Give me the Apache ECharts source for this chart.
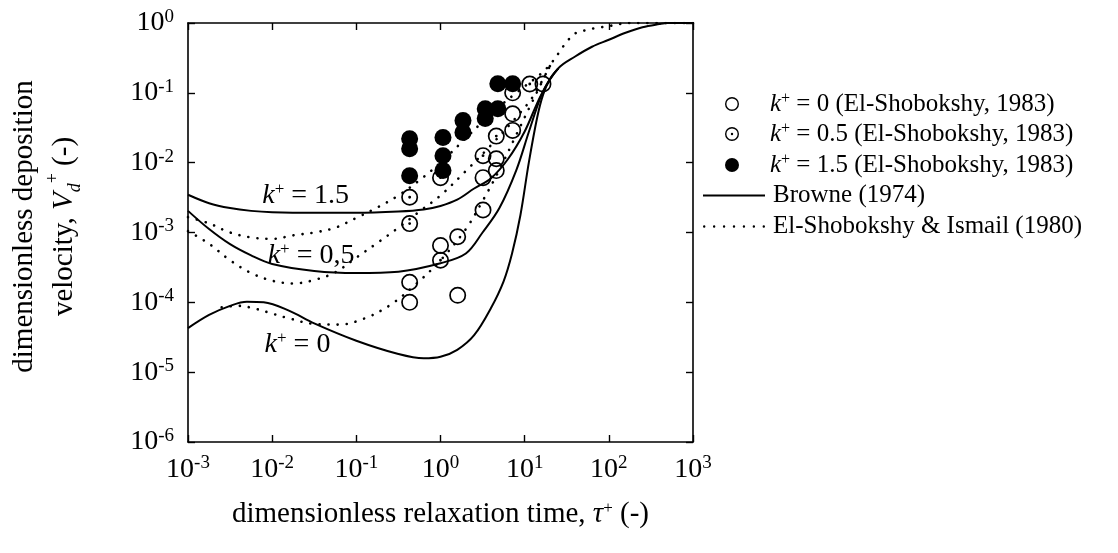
<!DOCTYPE html>
<html><head><meta charset="utf-8">
<script src="https://cdn.jsdelivr.net/npm/echarts@6/dist/echarts.min.js"></script>
<style>html,body{margin:0;padding:0;background:#fff}#c{width:1118px;height:553px}</style>
</head><body><div id="c"></div>
<script>
// ---------- data ----------
const browne15X = [0.001, 0.00178, 0.00316, 0.00562, 0.01, 0.0316, 0.1, 0.316, 0.631, 1, 1.58, 2.51, 3.98, 6.31, 10, 15.8, 25.1, 39.8, 63.1, 100, 158, 251, 398, 501, 1000];
const browne15Y = [3.47e-3, 2.63e-3, 2.24e-3, 2.04e-3, 1.95e-3, 1.91e-3, 1.91e-3, 2.0e-3, 2.14e-3, 2.4e-3, 2.95e-3, 4.27e-3, 6.0e-3, 1.12e-2, 2.8e-2, 9.5e-2, 0.224, 0.331, 0.457, 0.575, 0.724, 0.871, 0.966, 1, 1];
const browne05X = [0.001, 0.00178, 0.00316, 0.00562, 0.01, 0.0316, 0.1, 0.316, 1, 2.0, 3.16, 5.01, 7.94, 11.2, 15.8, 20, 25.1];
const browne05Y = [2.04e-3, 1.12e-3, 6.8e-4, 4.7e-4, 3.55e-4, 2.82e-4, 2.63e-4, 2.75e-4, 3.63e-4, 5.0e-4, 1.0e-3, 2.24e-3, 7.76e-3, 2.75e-2, 9.3e-2, 0.158, 0.224];
const browne0X = [0.001, 0.00178, 0.00316, 0.00501, 0.00794, 0.0158, 0.0316, 0.1, 0.316, 0.631, 1, 1.58, 2.51, 3.98, 5.62, 7.08, 8.91, 11.2, 14.1, 16.6, 20, 25.1];
const browne0Y = [4.27e-5, 6.6e-5, 8.9e-5, 1.02e-4, 1.0e-4, 7.6e-5, 5.0e-5, 2.82e-5, 1.82e-5, 1.58e-5, 1.66e-5, 2.09e-5, 3.39e-5, 8.3e-5, 2.0e-4, 5.0e-4, 1.78e-3, 1.0e-2, 4.47e-2, 9.5e-2, 0.158, 0.224];

const elsh15X = [0.001, 0.00178, 0.00316, 0.00562, 0.01, 0.0178, 0.0316, 0.0562, 0.1, 0.178, 0.316, 0.562, 1, 2.0, 3.98, 7.94, 15.8, 20.9, 25.7, 30.9, 39.8, 53.7, 70.8, 100, 126, 178, 1000];
const elsh15Y = [1.66e-3, 1.35e-3, 1.0e-3, 8.5e-4, 8.1e-4, 9.1e-4, 1.0e-3, 1.17e-3, 1.62e-3, 2.29e-3, 3.39e-3, 5.6e-3, 1.0e-2, 2.24e-2, 5.0e-2, 0.1, 0.19, 0.27, 0.38, 0.52, 0.71, 0.79, 0.85, 0.9, 0.955, 1, 1];
const elsh05X = [0.001, 0.00178, 0.00316, 0.00562, 0.01, 0.0178, 0.0316, 0.0562, 0.1, 0.178, 0.316, 0.562, 1, 2.0, 3.98, 7.94, 12.6, 20.9];
const elsh05Y = [1.05e-3, 6.9e-4, 4.0e-4, 2.63e-4, 2.04e-4, 1.86e-4, 2.09e-4, 2.69e-4, 4.37e-4, 7.1e-4, 1.17e-3, 2.0e-3, 3.39e-3, 7.6e-3, 1.78e-2, 4.47e-2, 8.9e-2, 0.27];
const elsh0X = [0.00251, 0.00398, 0.00631, 0.01, 0.0158, 0.0316, 0.063, 0.126, 0.251, 0.5, 1, 2, 3.16, 5.01, 7.94, 12.6, 20.9];
const elsh0Y = [8.5e-5, 8.9e-5, 8.1e-5, 6.9e-5, 5.9e-5, 4.9e-5, 4.8e-5, 5.9e-5, 9.1e-5, 1.78e-4, 4.0e-4, 1.12e-3, 2.82e-3, 7.9e-3, 2.5e-2, 7.9e-2, 0.27];

// El-Shobokshy (1983) measurements
const exp0Tau = [0.43, 0.43, 1.6, 1.0, 1.6, 3.2, 3.2, 4.6, 4.6, 7.2, 7.2, 7.2, 16.5];
const exp0V   = [1.94e-4, 1.0e-4, 1.26e-4, 6.5e-4, 8.7e-4, 2.1e-3, 6.1e-3, 7.7e-3, 1.14e-2, 2.9e-2, 5.0e-2, 0.1, 0.134];
const exp05Tau = [0.43, 0.43, 1.0, 1.0, 3.2, 4.6, 11.5];
const exp05V   = [3.2e-3, 1.34e-3, 4.0e-4, 6.1e-3, 1.26e-2, 2.4e-2, 0.134];
const exp15Tau = [0.43, 0.43, 0.43, 1.07, 1.07, 1.07, 1.85, 1.85, 3.4, 3.4, 4.8, 4.8, 7.2];
const exp15V   = [0.022, 0.0158, 0.0065, 0.023, 0.0126, 0.0077, 0.04, 0.027, 0.059, 0.043, 0.059, 0.135, 0.135];

const xMin = 1e-3, xMax = 1e3, yMin = 1e-6, yMax = 1;

const nameK0 = 'k+ = 0 (El-Shobokshy, 1983)';
const nameK05 = 'k+ = 0.5 (El-Shobokshy, 1983)';
const nameK15 = 'k+ = 1.5 (El-Shobokshy, 1983)';
const nameBrowne = 'Browne (1974)';
const nameElsh = 'El-Shobokshy & Ismail (1980)';

// curve annotations: text value and anchor in data space
const annoText = ['1.5', '0,5', '0'];
const annoTau = [0.025, 0.029, 0.02];
const annoV = [3.4e-3, 4.7e-4, 2.45e-5];

// ---------- helpers ----------
const zip = (a, b) => a.map((v, i) => [v, b[i]]);
const FONT = 'Liberation Serif';
const ringPath = 'path://M10,0A10,10,0,1,1,10,20A10,10,0,1,1,10,0ZM10,2A8,8,0,1,0,10,18A8,8,0,1,0,10,2Z';
const ringDotPath = 'path://M10,0A10,10,0,1,1,10,20A10,10,0,1,1,10,0ZM10,2A8,8,0,1,0,10,18A8,8,0,1,0,10,2ZM10,8.3A1.7,1.7,0,1,1,10,11.7A1.7,1.7,0,1,1,10,8.3Z';
// legend icons for the two line styles
const solidIcon = 'path://M0,0H62V2.2H0Z';
let dotIconStr = 'path://';
for (let k = 0; k < 7; k++) {
  const cx = 1.2 + k * 9.9;
  dotIconStr += 'M' + cx + ',0A1.2,1.2,0,1,1,' + cx + ',2.4A1.2,1.2,0,1,1,' + cx + ',0Z';
}
const dottedIcon = dotIconStr;

const powLabel = v => {
  const e = Math.round(Math.log10(v));
  return '{b|10}{s|' + (e < 0 ? '-' + (-e) : e) + '}';
};
const powRich = {
  b: {fontFamily: FONT, fontSize: 28, color: '#000'},
  s: {fontFamily: FONT, fontSize: 19, color: '#000', verticalAlign: 'top', padding: [0, 0, 12, 0]}
};

const solid = {color: '#000', width: 2};
const dotted = {color: '#000', width: 2.6, type: [0.1, 9], cap: 'round'};

function lineSeries(name, xs, ys, style) {
  return {name, type: 'line', data: zip(xs, ys), showSymbol: false, symbol: 'none',
    smooth: 0.35, lineStyle: style, itemStyle: {color: '#000'}, z: 2, silent: true};
}

const legendRich = {
  i: {fontFamily: FONT, fontSize: 25, fontStyle: 'italic', color: '#000'},
  s: {fontFamily: FONT, fontSize: 16, color: '#000', verticalAlign: 'top', padding: [0, 0, 10, 0]},
  t: {fontFamily: FONT, fontSize: 25, color: '#000'}
};
const legendFormatter = n => n.startsWith('k+')
  ? '{i|k}{s|+}{t|' + n.slice(2) + '}'
  : '{t|' + n + '}';
const legendRows = [
  {name: nameK0, icon: ringPath, y: 101, left: 720, w: 14, h: 14, pad: 26},
  {name: nameK05, icon: ringDotPath, y: 131, left: 720, w: 14, h: 14, pad: 26},
  {name: nameK15, icon: 'circle', y: 162, left: 720, w: 14, h: 14, pad: 26},
  {name: nameBrowne, icon: solidIcon, y: 193, left: 698, w: 62, h: 14, pad: 3},
  {name: nameElsh, icon: dottedIcon, y: 224, left: 698, w: 62, h: 14, pad: 3}
];

const chart = echarts.init(document.getElementById('c'), null, {renderer: 'canvas'});

const axisCommon = {
  type: 'log', logBase: 10,
  axisLine: {show: true, lineStyle: {color: '#000', width: 1.6}},
  axisTick: {show: true, inside: true, length: 7, lineStyle: {color: '#000', width: 1.4}},
  minorTick: {show: false},
  splitLine: {show: false},
};

const option = {
  animation: false,
  backgroundColor: '#fff',
  grid: {left: 188, right: 425, top: 23, bottom: 111, show: false},
  xAxis: [
    Object.assign({}, axisCommon, {
      min: xMin, max: xMax, splitNumber: 6, position: 'bottom',
      axisLabel: {formatter: powLabel, rich: powRich, margin: 12, color: '#000'},
      name: '{t|dimensionless relaxation time, }{i|τ}{s|+}{t| (-)}',
      nameLocation: 'middle', nameGap: 58,
      nameTextStyle: {rich: {
        t: {fontFamily: FONT, fontSize: 29, color: '#000'},
        i: {fontFamily: FONT, fontSize: 29, fontStyle: 'italic', color: '#000'},
        s: {fontFamily: FONT, fontSize: 17, color: '#000', verticalAlign: 'top', padding: [0, 0, 12, 0]}
      }}
    }),
    Object.assign({}, axisCommon, {
      min: xMin, max: xMax, splitNumber: 6, position: 'top',
      axisLabel: {show: false}
    })
  ],
  yAxis: [
    Object.assign({}, axisCommon, {
      min: yMin, max: yMax, splitNumber: 6, position: 'left',
      axisLabel: {formatter: powLabel, rich: powRich, margin: 14, color: '#000'},
      name: '{t|dimensionless deposition}\n{t|velocity, }{i|V}{sub|d}{s|+}{t| (-)}',
      nameLocation: 'middle', nameGap: 104, nameRotate: 90,
      nameTextStyle: {lineHeight: 40, padding: [0, 0, 0, 12], rich: {
        t: {fontFamily: FONT, fontSize: 29, color: '#000', lineHeight: 40},
        i: {fontFamily: FONT, fontSize: 29, fontStyle: 'italic', color: '#000', lineHeight: 40},
        sub: {fontFamily: FONT, fontSize: 18, fontStyle: 'italic', color: '#000', verticalAlign: 'bottom', lineHeight: 40},
        s: {fontFamily: FONT, fontSize: 18, color: '#000', verticalAlign: 'top', lineHeight: 40}
      }}
    }),
    Object.assign({}, axisCommon, {
      min: yMin, max: yMax, splitNumber: 6, position: 'right',
      axisLabel: {show: false}
    })
  ],
  legend: legendRows.map(r => ({
    data: [{name: r.name, icon: r.icon}],
    left: r.left, top: r.y - 15, itemWidth: r.w, itemHeight: r.h, itemGap: 0,
    selectedMode: false, formatter: legendFormatter,
    itemStyle: {color: '#000', opacity: 1, borderWidth: 0},
    textStyle: {rich: legendRich, color: '#000', padding: [0, 0, 0, r.pad]}
  })),
  series: [
    lineSeries(nameBrowne, browne15X, browne15Y, solid),
    lineSeries(nameBrowne, browne05X, browne05Y, solid),
    lineSeries(nameBrowne, browne0X, browne0Y, solid),
    lineSeries(nameElsh, elsh15X, elsh15Y, dotted),
    lineSeries(nameElsh, elsh05X, elsh05Y, dotted),
    lineSeries(nameElsh, elsh0X, elsh0Y, dotted),
    {name: nameK0, type: 'scatter', data: zip(exp0Tau, exp0V), symbol: ringPath, symbolSize: 17,
      itemStyle: {color: '#000', opacity: 1}, z: 3, silent: true},
    {name: nameK05, type: 'scatter', data: zip(exp05Tau, exp05V), symbol: ringDotPath, symbolSize: 17,
      itemStyle: {color: '#000', opacity: 1}, z: 3, silent: true},
    {name: nameK15, type: 'scatter', data: zip(exp15Tau, exp15V), symbol: 'circle', symbolSize: 17,
      itemStyle: {color: '#000', opacity: 1}, z: 4, silent: true}
  ]
};
chart.setOption(option);

// annotations placed in data space
const annoRich = {
  i: {fontFamily: FONT, fontSize: 28, fontStyle: 'italic', color: '#000'},
  s: {fontFamily: FONT, fontSize: 17, color: '#000', verticalAlign: 'top', padding: [0, 0, 12, 0]},
  t: {fontFamily: FONT, fontSize: 28, color: '#000'}
};
const graphics = annoText.map((t, i) => {
  const p = chart.convertToPixel({xAxisIndex: 0, yAxisIndex: 0}, [annoTau[i], annoV[i]]);
  return {type: 'text', x: p[0], y: p[1], z: 10,
    style: {text: '{i|k}{s|+}{t| = ' + t + '}', rich: annoRich, align: 'center', verticalAlign: 'middle'}};
});
chart.setOption({graphic: graphics});
</script>
</body></html>
